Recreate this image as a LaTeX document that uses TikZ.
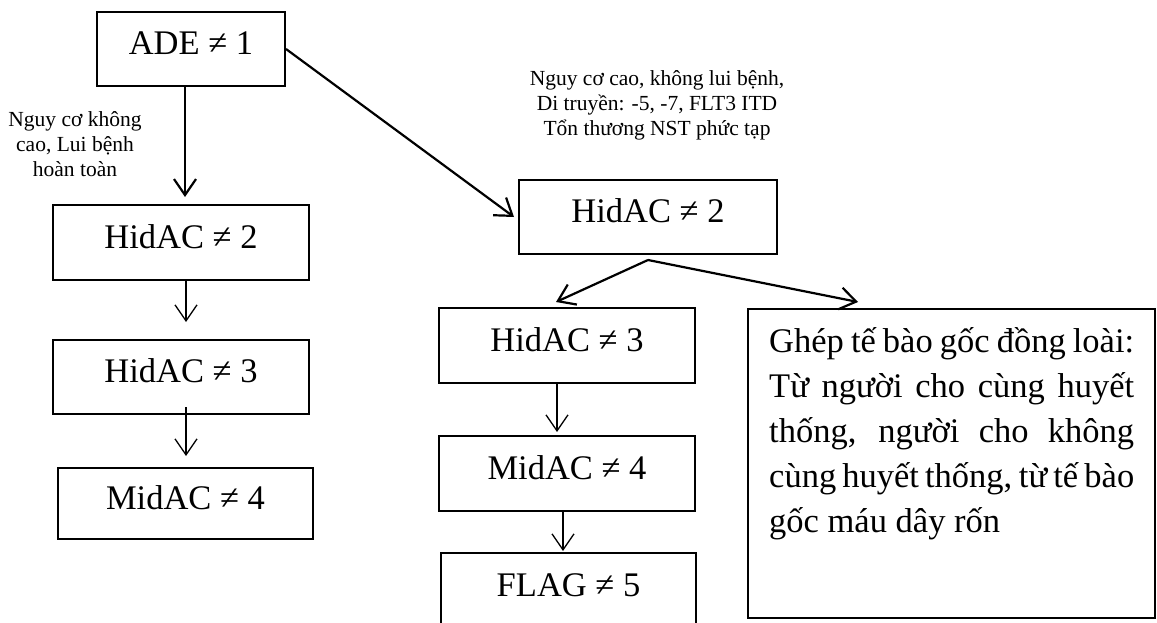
\documentclass[tikz,border=0pt]{standalone}
\usepackage{fontspec}
\setmainfont{Liberation Serif}
\usepackage{tikz}
\usetikzlibrary{arrows.meta}
\tikzstyle{block} = [draw, line width=2pt, minimum width=256pt, minimum height=75pt, inner sep=0pt, text height=23pt, text depth=12pt, font=\fontsize{34.5}{40}\selectfont]
\tikzstyle{line} = [draw, line width=2.2pt, ->]
\tikzstyle{thinline} = [draw, line width=1.3pt, ->]

\begin{document}
\begin{tikzpicture}[x=1pt, y=-1pt, >={Straight Barb[length=16pt,width=22pt]}, %Pfeilspitzen
				font=\fontsize{21.5}{25}\selectfont]
				\clip (0,0) rectangle (1157,623);
				% linke Spalte
				\node[block, minimum width=188pt, minimum height=74pt] (ade) at (191,49) {ADE ≠ 1};
				\node[block] (hidl2) at (181,242.5) {HidAC ≠ 2};
				\node[block, minimum height=74pt] (hidl3) at (181,377) {HidAC ≠ 3};
				\node[block, minimum width=255pt, minimum height=71pt] (midl4) at (185.5,503.5) {MidAC ≠ 4};
				\node[align=center] (lowrisk) at (75,144) {Nguy cơ không\\cao, Lui bệnh\\hoàn toàn};
				% rechte Seite
				\node[block, minimum width=258pt, minimum height=74pt] (hidm2) at (648,217) {HidAC ≠ 2};
				\node[block] (hidm3) at (567,345.5) {HidAC ≠ 3};
				\node[block] (midm4) at (567,473.5) {MidAC ≠ 4};
				\node[block, minimum width=255pt] (flag) at (568.5,590.5) {FLAG ≠ 5};
				\node[align=center] (highrisk) at (657,105) {Nguy cơ cao, không lui bệnh,\\Di truyền: -5, -7, FLT3 ITD\\Tổn thương NST phức tạp};
				\node[draw, line width=2pt, minimum width=407pt, minimum height=309pt] (allo) at (951.5,463.5) {};
				\node[anchor=north west, text width=365pt, align=justify, inner sep=0pt, font=\fontsize{34.5}{45}\selectfont] (allotext) at ([xshift=22pt, yshift=-19pt]allo.north west) {Ghép tế bào gốc đồng loài:\linebreak Từ người cho cùng huyết\linebreak thống, người cho không\linebreak cùng huyết thống, từ tế bào\linebreak gốc máu dây rốn};
				% Pfeile
				\coordinate (t1) at (185,197);
				\coordinate (fork) at ([yshift=-5pt]hidm2.south);
				\draw[line] (ade.south -| t1) -- (t1);
				\draw[line] (ade.east) -- ([xshift=-4pt]hidm2.west);
				\draw[line] (fork) -- ([xshift=-11pt, yshift=5pt]hidm3.north);
				\draw[line] (fork) -- ([xshift=-93.5pt, yshift=6pt]allo.north);
				\draw[thinline] ([xshift=5pt]hidl2.south) -- ([xshift=5pt, yshift=17pt]hidl3.north);
				\draw[thinline] ([xshift=5pt, yshift=8pt]hidl3.south) -- ([xshift=0.5pt, yshift=11pt]midl4.north);
				\draw[thinline] ([xshift=-10pt]hidm3.south) -- ([xshift=-10pt, yshift=3pt]midm4.north);
				\draw[thinline] ([xshift=-4pt]midm4.south) -- ([xshift=-5.5pt, yshift=1pt]flag.north);
\end{tikzpicture}
\end{document}
